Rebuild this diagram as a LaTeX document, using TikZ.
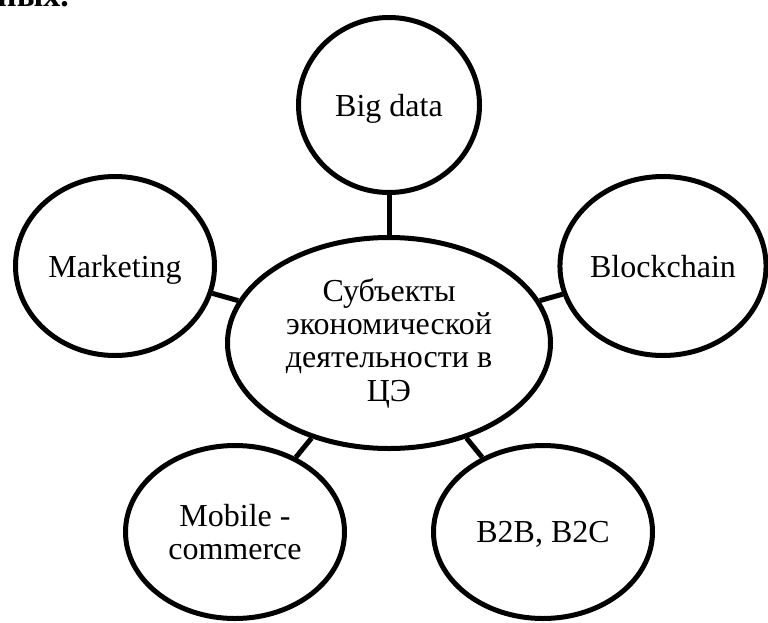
\documentclass[tikz,border=0pt]{standalone}
\usepackage{fontspec}
\setmainfont{Liberation Serif}
\usetikzlibrary{shapes.geometric}
\tikzset{
  bubble/.style={ellipse, draw=black, line width=5pt, inner sep=0pt, align=center,
    font=\fontsize{32}{33.3}\selectfont},
  oneline/.style={text depth=0pt},
  link/.style={draw=black, line width=5pt}
}
\begin{document}
\begin{tikzpicture}[x=1pt,y=-1pt]
  \path[use as bounding box] (0,0) rectangle (768,622);
  % tail of the preceding sentence
  \node[anchor=base west, inner sep=0pt, font=\fontsize{34}{36}\selectfont\bfseries] (tail) at (-3,6) {ных.};
  % central ellipse
  \node[bubble, minimum width=323pt, minimum height=211pt] (c) at (389,343)
    {Субъекты\\экономической\\деятельности в\\ЦЭ};
  % satellites
  \node[bubble, oneline, minimum width=181pt, minimum height=175pt] (bd) at (389,105) {Big data};
  \node[bubble, oneline, minimum width=199pt, minimum height=179pt] (mk) at (115,266) {Marketing};
  \node[bubble, oneline, minimum width=199pt, minimum height=179pt] (bc) at (663,266) {Blockchain};
  \node[bubble, minimum width=219pt, minimum height=173pt] (mc) at (235,532) {Mobile -\\commerce};
  \node[bubble, oneline, minimum width=219pt, minimum height=173pt] (b2) at (543,532) {B2B, B2C};
  % connectors
  \foreach \s in {bd,mk,bc,mc,b2} \path[link] (c) -- (\s);
\end{tikzpicture}
\end{document}
